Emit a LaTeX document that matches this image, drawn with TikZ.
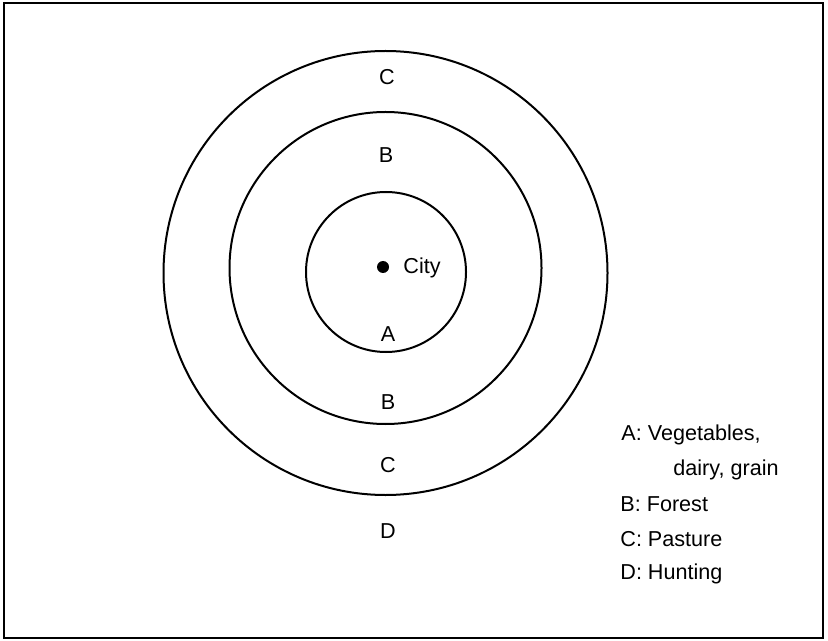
\documentclass[tikz,border=0pt]{standalone}
\usepackage{fontspec}
\setmainfont{Liberation Sans}
\usetikzlibrary{positioning}

\begin{document}
\begin{tikzpicture}[x=0.5pt,y=-0.5pt,
  every node/.style={font=\fontsize{10.8}{13}\selectfont,inner sep=0pt},
  ring/.style={draw,line width=1pt},
  zone/.style={anchor=center},
  key/.style={anchor=base west}]
\useasboundingbox (0,0) rectangle (828,641);
\draw[line width=1.3pt] (4,3) rectangle (823,638);
% the three rings
\draw[ring] (385.5,273) circle[radius=222];
\draw[ring] (385.5,268) circle[radius=156];
\draw[ring] (386,272) circle[radius=80];
\node[circle,fill,minimum size=6pt] (city) at (383,267) {};
\node[key] (citylbl) at (403,273) {City};
% zone letters
\node[zone] (cT) at (387,77) {C};
\node[zone] (bT) at (386,155) {B};
\node[zone] (aB) at (388,334) {A};
\node[zone] (bB) at (388,402) {B};
\node[zone] (cB) at (388,465) {C};
\node[zone] (dB) at (388,531) {D};
% key
\node[key] (ka) at (621,440) {A: Vegetables,};
\node[key] (ka2) at (673,475) {dairy, grain};
\node[key] (kb) at (620,511) {B: Forest};
\node[key] (kc) at (620,546) {C: Pasture};
\node[key] (kd) at (620,579) {D: Hunting};
\end{tikzpicture}
\end{document}
